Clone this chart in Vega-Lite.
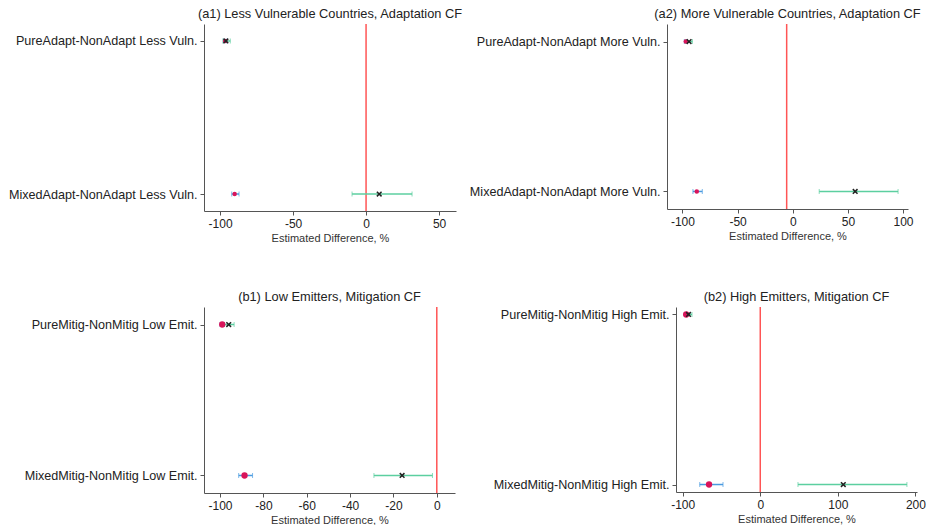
{
  "$schema": "https://vega.github.io/schema/vega-lite/v6.json",
  "padding": {"left": 0, "top": 8, "right": 0, "bottom": 0},
  "background": "white",
  "data": {"values": [
    {"panel": "a1", "kind": "ref", "est": 0},
    {"panel": "a1", "kind": "A", "label": "PureAdapt-NonAdapt Less Vuln.", "est": -96.5, "lo": -97.8, "hi": -95.3},
    {"panel": "a1", "kind": "B", "label": "PureAdapt-NonAdapt Less Vuln.", "est": -96, "lo": -98, "hi": -93},
    {"panel": "a1", "kind": "A", "label": "MixedAdapt-NonAdapt Less Vuln.", "est": -90, "lo": -92, "hi": -87},
    {"panel": "a1", "kind": "B", "label": "MixedAdapt-NonAdapt Less Vuln.", "est": 9, "lo": -9.6, "hi": 31.5},
    {"panel": "a2", "kind": "ref", "est": -5.5},
    {"panel": "a2", "kind": "A", "label": "PureAdapt-NonAdapt More Vuln.", "est": -97, "lo": -98.3, "hi": -95.8},
    {"panel": "a2", "kind": "B", "label": "PureAdapt-NonAdapt More Vuln.", "est": -94, "lo": -97, "hi": -91},
    {"panel": "a2", "kind": "A", "label": "MixedAdapt-NonAdapt More Vuln.", "est": -87, "lo": -90.5, "hi": -82},
    {"panel": "a2", "kind": "B", "label": "MixedAdapt-NonAdapt More Vuln.", "est": 56.6, "lo": 24, "hi": 95.5},
    {"panel": "b1", "kind": "ref", "est": 0},
    {"panel": "b1", "kind": "A", "label": "PureMitig-NonMitig Low Emit.", "est": -99, "lo": -100, "hi": -98},
    {"panel": "b1", "kind": "B", "label": "PureMitig-NonMitig Low Emit.", "est": -96, "lo": -98, "hi": -93.5},
    {"panel": "b1", "kind": "A", "label": "MixedMitig-NonMitig Low Emit.", "est": -88.7, "lo": -91.4, "hi": -85},
    {"panel": "b1", "kind": "B", "label": "MixedMitig-NonMitig Low Emit.", "est": -16, "lo": -29, "hi": -2},
    {"panel": "b2", "kind": "ref", "est": 0},
    {"panel": "b2", "kind": "A", "label": "PureMitig-NonMitig High Emit.", "est": -95.5, "lo": -97, "hi": -94},
    {"panel": "b2", "kind": "B", "label": "PureMitig-NonMitig High Emit.", "est": -92.5, "lo": -96, "hi": -88},
    {"panel": "b2", "kind": "A", "label": "MixedMitig-NonMitig High Emit.", "est": -66, "lo": -78, "hi": -48},
    {"panel": "b2", "kind": "B", "label": "MixedMitig-NonMitig High Emit.", "est": 107, "lo": 48.6, "hi": 189}
  ]},
  "vconcat": [
    {
      "hconcat": [
        {
          "width": 252, "height": 187,
          "title": {"text": "(a1) Less Vulnerable Countries, Adaptation CF", "frame": "group", "offset": 2},
          "transform": [{"filter": "datum.panel === 'a1'"}],
          "layer": [
            {"transform": [{"filter": "datum.kind === 'ref'"}], "mark": {"type": "rule", "color": "#ff5555", "strokeWidth": 1.5},
             "encoding": {"x": {"field": "est", "type": "quantitative", "scale": {"domain": [-111, 61.6], "nice": false, "zero": false}, "axis": {"values": [-100, -50, 0, 50], "title": "Estimated Difference, %"}}}},
            {"transform": [{"filter": "datum.kind !== 'ref'"}], "mark": {"type": "rule", "strokeWidth": 1.5},
             "encoding": {"x": {"field": "lo", "type": "quantitative", "title": "Estimated Difference, %"}, "x2": {"field": "hi"},
               "y": {"field": "label", "type": "nominal", "sort": ["PureAdapt-NonAdapt Less Vuln.", "MixedAdapt-NonAdapt Less Vuln."], "scale": {"type": "point", "padding": 0.111}, "axis": {"title": null, "minExtent": 203, "maxExtent": 203}},
               "color": {"field": "kind", "type": "nominal", "scale": {"domain": ["A", "B"], "range": ["#4a9be0", "#5ccfa0"]}, "legend": null}}},
            {"transform": [{"filter": "datum.kind !== 'ref'"}], "mark": {"type": "tick", "size": 5, "thickness": 1},
             "encoding": {"x": {"field": "lo", "type": "quantitative", "title": "Estimated Difference, %"}, "y": {"field": "label", "type": "nominal", "sort": ["PureAdapt-NonAdapt Less Vuln.", "MixedAdapt-NonAdapt Less Vuln."]}, "color": {"field": "kind", "type": "nominal", "legend": null}}},
            {"transform": [{"filter": "datum.kind !== 'ref'"}], "mark": {"type": "tick", "size": 5, "thickness": 1},
             "encoding": {"x": {"field": "hi", "type": "quantitative", "title": "Estimated Difference, %"}, "y": {"field": "label", "type": "nominal", "sort": ["PureAdapt-NonAdapt Less Vuln.", "MixedAdapt-NonAdapt Less Vuln."]}, "color": {"field": "kind", "type": "nominal", "legend": null}}},
            {"transform": [{"filter": "datum.kind === 'A'"}], "mark": {"type": "point", "filled": true, "color": "#d9145a", "size": 20, "opacity": 1},
             "encoding": {"x": {"field": "est", "type": "quantitative", "title": "Estimated Difference, %"}, "y": {"field": "label", "type": "nominal", "sort": ["PureAdapt-NonAdapt Less Vuln.", "MixedAdapt-NonAdapt Less Vuln."]}}},
            {"transform": [{"filter": "datum.kind === 'B'"}], "mark": {"type": "point", "shape": "M-1,-1L1,1M-1,1L1,-1", "filled": false, "color": "#222", "strokeWidth": 1.5, "size": 22, "opacity": 1},
             "encoding": {"x": {"field": "est", "type": "quantitative", "title": "Estimated Difference, %"}, "y": {"field": "label", "type": "nominal", "sort": ["PureAdapt-NonAdapt Less Vuln.", "MixedAdapt-NonAdapt Less Vuln."]}}}
          ]
        },
        {
          "width": 241, "height": 185,
          "title": {"text": "(a2) More Vulnerable Countries, Adaptation CF", "frame": "group", "offset": 2},
          "transform": [{"filter": "datum.panel === 'a2'"}],
          "layer": [
            {"transform": [{"filter": "datum.kind === 'ref'"}], "mark": {"type": "rule", "color": "#ff5555", "strokeWidth": 1.5},
             "encoding": {"x": {"field": "est", "type": "quantitative", "scale": {"domain": [-114, 104.5], "nice": false, "zero": false}, "axis": {"values": [-100, -50, 0, 50, 100], "title": "Estimated Difference, %"}}}},
            {"transform": [{"filter": "datum.kind !== 'ref'"}], "mark": {"type": "rule", "strokeWidth": 1.5},
             "encoding": {"x": {"field": "lo", "type": "quantitative", "title": "Estimated Difference, %"}, "x2": {"field": "hi"},
               "y": {"field": "label", "type": "nominal", "sort": ["PureAdapt-NonAdapt More Vuln.", "MixedAdapt-NonAdapt More Vuln."], "scale": {"type": "point", "padding": 0.117}, "axis": {"title": null, "minExtent": 198, "maxExtent": 198}},
               "color": {"field": "kind", "type": "nominal", "scale": {"domain": ["A", "B"], "range": ["#4a9be0", "#5ccfa0"]}, "legend": null}}},
            {"transform": [{"filter": "datum.kind !== 'ref'"}], "mark": {"type": "tick", "size": 5, "thickness": 1},
             "encoding": {"x": {"field": "lo", "type": "quantitative", "title": "Estimated Difference, %"}, "y": {"field": "label", "type": "nominal", "sort": ["PureAdapt-NonAdapt More Vuln.", "MixedAdapt-NonAdapt More Vuln."]}, "color": {"field": "kind", "type": "nominal", "legend": null}}},
            {"transform": [{"filter": "datum.kind !== 'ref'"}], "mark": {"type": "tick", "size": 5, "thickness": 1},
             "encoding": {"x": {"field": "hi", "type": "quantitative", "title": "Estimated Difference, %"}, "y": {"field": "label", "type": "nominal", "sort": ["PureAdapt-NonAdapt More Vuln.", "MixedAdapt-NonAdapt More Vuln."]}, "color": {"field": "kind", "type": "nominal", "legend": null}}},
            {"transform": [{"filter": "datum.kind === 'A'"}], "mark": {"type": "point", "filled": true, "color": "#d9145a", "size": 20, "opacity": 1},
             "encoding": {"x": {"field": "est", "type": "quantitative", "title": "Estimated Difference, %"}, "y": {"field": "label", "type": "nominal", "sort": ["PureAdapt-NonAdapt More Vuln.", "MixedAdapt-NonAdapt More Vuln."]}}},
            {"transform": [{"filter": "datum.kind === 'B'"}], "mark": {"type": "point", "shape": "M-1,-1L1,1M-1,1L1,-1", "filled": false, "color": "#222", "strokeWidth": 1.5, "size": 22, "opacity": 1},
             "encoding": {"x": {"field": "est", "type": "quantitative", "title": "Estimated Difference, %"}, "y": {"field": "label", "type": "nominal", "sort": ["PureAdapt-NonAdapt More Vuln.", "MixedAdapt-NonAdapt More Vuln."]}}}
          ]
        }
      ],
      "spacing": 6
    },
    {
      "hconcat": [
        {
          "width": 251, "height": 186,
          "title": {"text": "(b1) Low Emitters, Mitigation CF", "frame": "group", "offset": 2},
          "transform": [{"filter": "datum.panel === 'b1'"}],
          "layer": [
            {"transform": [{"filter": "datum.kind === 'ref'"}], "mark": {"type": "rule", "color": "#ff5555", "strokeWidth": 1.5},
             "encoding": {"x": {"field": "est", "type": "quantitative", "scale": {"domain": [-107.4, 8.4], "nice": false, "zero": false}, "axis": {"values": [-100, -80, -60, -40, -20, 0], "title": "Estimated Difference, %"}}}},
            {"transform": [{"filter": "datum.kind !== 'ref'"}], "mark": {"type": "rule", "strokeWidth": 1.5},
             "encoding": {"x": {"field": "lo", "type": "quantitative", "title": "Estimated Difference, %"}, "x2": {"field": "hi"},
               "y": {"field": "label", "type": "nominal", "sort": ["PureMitig-NonMitig Low Emit.", "MixedMitig-NonMitig Low Emit."], "scale": {"type": "point", "padding": 0.116}, "axis": {"title": null, "minExtent": 204, "maxExtent": 204}},
               "color": {"field": "kind", "type": "nominal", "scale": {"domain": ["A", "B"], "range": ["#4a9be0", "#5ccfa0"]}, "legend": null}}},
            {"transform": [{"filter": "datum.kind !== 'ref'"}], "mark": {"type": "tick", "size": 5, "thickness": 1},
             "encoding": {"x": {"field": "lo", "type": "quantitative", "title": "Estimated Difference, %"}, "y": {"field": "label", "type": "nominal", "sort": ["PureMitig-NonMitig Low Emit.", "MixedMitig-NonMitig Low Emit."]}, "color": {"field": "kind", "type": "nominal", "legend": null}}},
            {"transform": [{"filter": "datum.kind !== 'ref'"}], "mark": {"type": "tick", "size": 5, "thickness": 1},
             "encoding": {"x": {"field": "hi", "type": "quantitative", "title": "Estimated Difference, %"}, "y": {"field": "label", "type": "nominal", "sort": ["PureMitig-NonMitig Low Emit.", "MixedMitig-NonMitig Low Emit."]}, "color": {"field": "kind", "type": "nominal", "legend": null}}},
            {"transform": [{"filter": "datum.kind === 'A'"}], "mark": {"type": "point", "filled": true, "color": "#d9145a", "size": 40, "opacity": 1},
             "encoding": {"x": {"field": "est", "type": "quantitative", "title": "Estimated Difference, %"}, "y": {"field": "label", "type": "nominal", "sort": ["PureMitig-NonMitig Low Emit.", "MixedMitig-NonMitig Low Emit."]}}},
            {"transform": [{"filter": "datum.kind === 'B'"}], "mark": {"type": "point", "shape": "M-1,-1L1,1M-1,1L1,-1", "filled": false, "color": "#222", "strokeWidth": 1.5, "size": 22, "opacity": 1},
             "encoding": {"x": {"field": "est", "type": "quantitative", "title": "Estimated Difference, %"}, "y": {"field": "label", "type": "nominal", "sort": ["PureMitig-NonMitig Low Emit.", "MixedMitig-NonMitig Low Emit."]}}}
          ]
        },
        {
          "width": 241, "height": 185,
          "title": {"text": "(b2) High Emitters, Mitigation CF", "frame": "group", "offset": 2},
          "transform": [{"filter": "datum.panel === 'b2'"}],
          "layer": [
            {"transform": [{"filter": "datum.kind === 'ref'"}], "mark": {"type": "rule", "color": "#ff5555", "strokeWidth": 1.5},
             "encoding": {"x": {"field": "est", "type": "quantitative", "scale": {"domain": [-108.6, 202], "nice": false, "zero": false}, "axis": {"values": [-100, 0, 100, 200], "title": "Estimated Difference, %"}}}},
            {"transform": [{"filter": "datum.kind !== 'ref'"}], "mark": {"type": "rule", "strokeWidth": 1.5},
             "encoding": {"x": {"field": "lo", "type": "quantitative", "title": "Estimated Difference, %"}, "x2": {"field": "hi"},
               "y": {"field": "label", "type": "nominal", "sort": ["PureMitig-NonMitig High Emit.", "MixedMitig-NonMitig High Emit."], "scale": {"type": "point", "padding": 0.044}, "axis": {"title": null, "minExtent": 203, "maxExtent": 203}},
               "color": {"field": "kind", "type": "nominal", "scale": {"domain": ["A", "B"], "range": ["#4a9be0", "#5ccfa0"]}, "legend": null}}},
            {"transform": [{"filter": "datum.kind !== 'ref'"}], "mark": {"type": "tick", "size": 5, "thickness": 1},
             "encoding": {"x": {"field": "lo", "type": "quantitative", "title": "Estimated Difference, %"}, "y": {"field": "label", "type": "nominal", "sort": ["PureMitig-NonMitig High Emit.", "MixedMitig-NonMitig High Emit."]}, "color": {"field": "kind", "type": "nominal", "legend": null}}},
            {"transform": [{"filter": "datum.kind !== 'ref'"}], "mark": {"type": "tick", "size": 5, "thickness": 1},
             "encoding": {"x": {"field": "hi", "type": "quantitative", "title": "Estimated Difference, %"}, "y": {"field": "label", "type": "nominal", "sort": ["PureMitig-NonMitig High Emit.", "MixedMitig-NonMitig High Emit."]}, "color": {"field": "kind", "type": "nominal", "legend": null}}},
            {"transform": [{"filter": "datum.kind === 'A'"}], "mark": {"type": "point", "filled": true, "color": "#d9145a", "size": 40, "opacity": 1},
             "encoding": {"x": {"field": "est", "type": "quantitative", "title": "Estimated Difference, %"}, "y": {"field": "label", "type": "nominal", "sort": ["PureMitig-NonMitig High Emit.", "MixedMitig-NonMitig High Emit."]}}},
            {"transform": [{"filter": "datum.kind === 'B'"}], "mark": {"type": "point", "shape": "M-1,-1L1,1M-1,1L1,-1", "filled": false, "color": "#222", "strokeWidth": 1.5, "size": 22, "opacity": 1},
             "encoding": {"x": {"field": "est", "type": "quantitative", "title": "Estimated Difference, %"}, "y": {"field": "label", "type": "nominal", "sort": ["PureMitig-NonMitig High Emit.", "MixedMitig-NonMitig High Emit."]}}}
          ]
        }
      ],
      "spacing": 18
    }
  ],
  "spacing": 48,
  "config": {
    "font": "Liberation Sans",
    "view": {"stroke": null},
    "axis": {"grid": false, "domainColor": "#555", "tickColor": "#555", "labelColor": "#222", "titleColor": "#333", "labelFontSize": 12, "titleFontSize": 11, "titleFontWeight": "normal", "tickSize": 4, "labelPadding": 3, "titlePadding": 3},
    "axisX": {"labelExpr": "replace(datum.label, '\u2212', '-')"},
    "axisY": {"labelFontSize": 12.6, "labelLimit": 260},
    "title": {"fontSize": 12.8, "fontWeight": "normal", "color": "#222"}
  }
}
